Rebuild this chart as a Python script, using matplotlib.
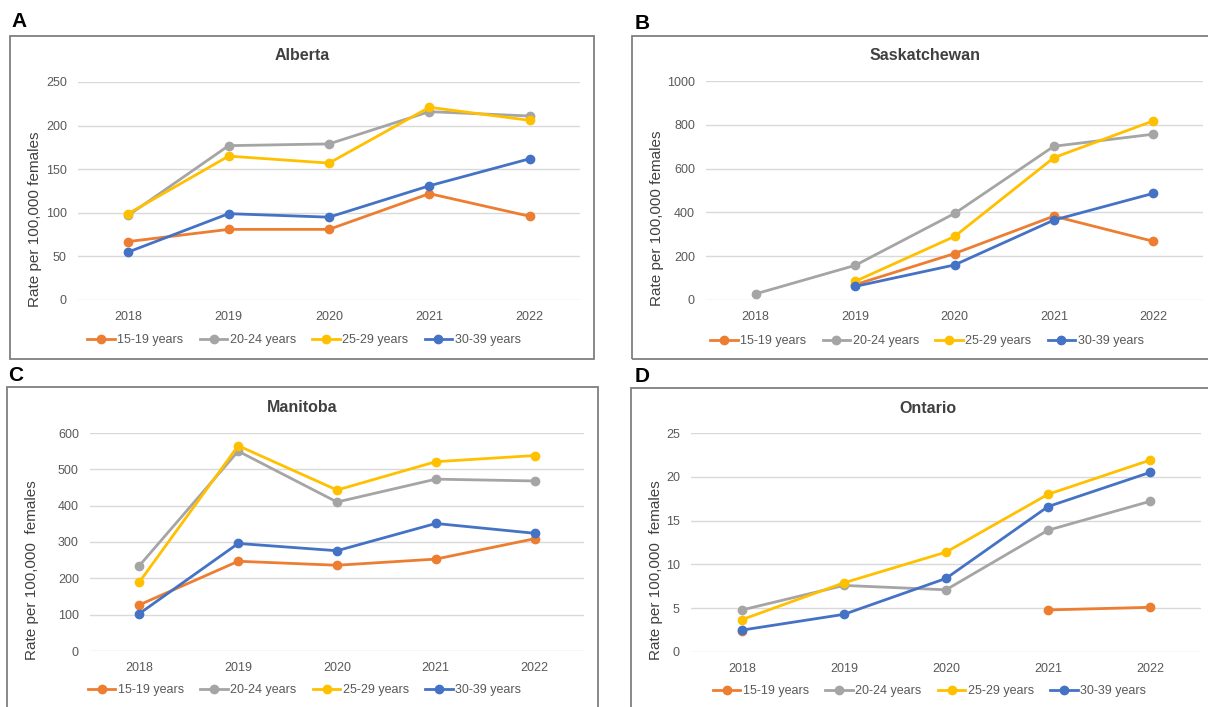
import numpy as np
import matplotlib
matplotlib.use("Agg")
import matplotlib.pyplot as plt
from matplotlib.patches import Rectangle

plt.rcParams['font.family'] = ['Liberation Sans', 'DejaVu Sans']

years = ['2018', '2019', '2020', '2021', '2022']
groups = ['15-19 years', '20-24 years', '25-29 years', '30-39 years']
colors = ['#ED7D31', '#A5A5A5', '#FFC000', '#4472C4']

alberta_15_19 = [67, 81, 81, 122, 96]
alberta_20_24 = [97, 177, 179, 216, 211]
alberta_25_29 = [99, 165, 157, 221, 206]
alberta_30_39 = [55, 99, 95, 131, 162]

sask_15_19 = [np.nan, 70, 212, 383, 268]
sask_20_24 = [28, 158, 395, 702, 757]
sask_25_29 = [np.nan, 85, 290, 650, 818]
sask_30_39 = [np.nan, 62, 160, 365, 487]

manitoba_15_19 = [127, 247, 236, 253, 309]
manitoba_20_24 = [235, 550, 410, 473, 468]
manitoba_25_29 = [190, 565, 443, 521, 538]
manitoba_30_39 = [103, 296, 276, 351, 324]

ontario_15_19 = [2.4, np.nan, np.nan, 4.8, 5.1]
ontario_20_24 = [4.8, 7.6, 7.1, 13.9, 17.2]
ontario_25_29 = [3.7, 7.9, 11.4, 18.0, 21.9]
ontario_30_39 = [2.5, 4.3, 8.4, 16.6, 20.5]

W, H = 1208, 707
fig = plt.figure(figsize=(W / 100, H / 100), dpi=100)


def fx(px):
    return px / W


def fy(py):
    return 1 - py / H


def panel(letter, title, series, ymax, ystep, ylabel, box, axbox, letter_xy, legend_y):
    bl, bt, br, bb = box
    # outer frame of the panel
    fig.patches.append(Rectangle((fx(bl), fy(bb)), fx(br - bl), (bb - bt) / H,
                                 transform=fig.transFigure, fill=False,
                                 edgecolor='#7f7f7f', linewidth=1.3))
    fig.text(fx(letter_xy[0]), fy(letter_xy[1]), letter, fontsize=15, fontweight='bold',
             color='black', va='top', ha='left')
    cx = (bl + br) / 2
    fig.text(fx(cx), fy(bt + 20), title, fontsize=11.5, fontweight='bold',
             color='#404040', ha='center', va='center')

    al, at, ar, ab = axbox
    ax = fig.add_axes([fx(al), fy(ab), fx(ar - al), (ab - at) / H])
    x = np.arange(len(years))
    for vals, c, g in zip(series, colors, groups):
        ax.plot(x, vals, color=c, linewidth=2.0, marker='o', markersize=6, label=g)
    ax.set_xlim(-0.5, 4.5)
    ax.set_ylim(0, ymax)
    ax.set_yticks(np.arange(0, ymax + 1e-9, ystep))
    ax.set_xticks(x)
    ax.set_xticklabels(years)
    ax.grid(axis='y', color='#d9d9d9', linewidth=1)
    ax.set_axisbelow(True)
    for s in ax.spines.values():
        s.set_visible(False)
    ax.tick_params(length=0, labelsize=9, labelcolor='#595959', pad=8)
    ax.set_ylabel(ylabel, fontsize=11, color='#404040')
    # axis title sits a little below the middle of the plot area
    lab_x = (bl + 32 - al) / (ar - al)
    lab_y = (ab - (at + ab) / 2 - 28) / (ab - at)
    ax.yaxis.set_label_coords(lab_x, lab_y)

    handles, labels = ax.get_legend_handles_labels()
    fig.legend(handles, labels, loc='center', bbox_to_anchor=(fx(cx + 2), fy(legend_y)),
               ncol=4, frameon=False, fontsize=9, labelcolor='#595959',
               handlelength=2.2, handletextpad=0.2, columnspacing=1.3)
    return ax


panel('A', 'Alberta', [alberta_15_19, alberta_20_24, alberta_25_29, alberta_30_39],
      250, 50, 'Rate per 100,000 females',
      (10, 36, 594, 359), (78, 82, 580, 300), (11, 12), 340)
panel('B', 'Saskatchewan', [sask_15_19, sask_20_24, sask_25_29, sask_30_39],
      1000, 200, 'Rate per 100,000 females',
      (632, 36, 1218, 359), (706, 81, 1203, 300), (635, 14), 341)
panel('C', 'Manitoba', [manitoba_15_19, manitoba_20_24, manitoba_25_29, manitoba_30_39],
      600, 100, 'Rate per 100,000  females',
      (7, 387, 598, 712), (90, 433, 584, 651), (8, 366), 690)
panel('D', 'Ontario', [ontario_15_19, ontario_20_24, ontario_25_29, ontario_30_39],
      25, 5, 'Rate per 100,000  females',
      (631, 388, 1224, 712), (691, 433, 1201, 652), (635, 367), 691)

fig.savefig('out.png', dpi=100)
